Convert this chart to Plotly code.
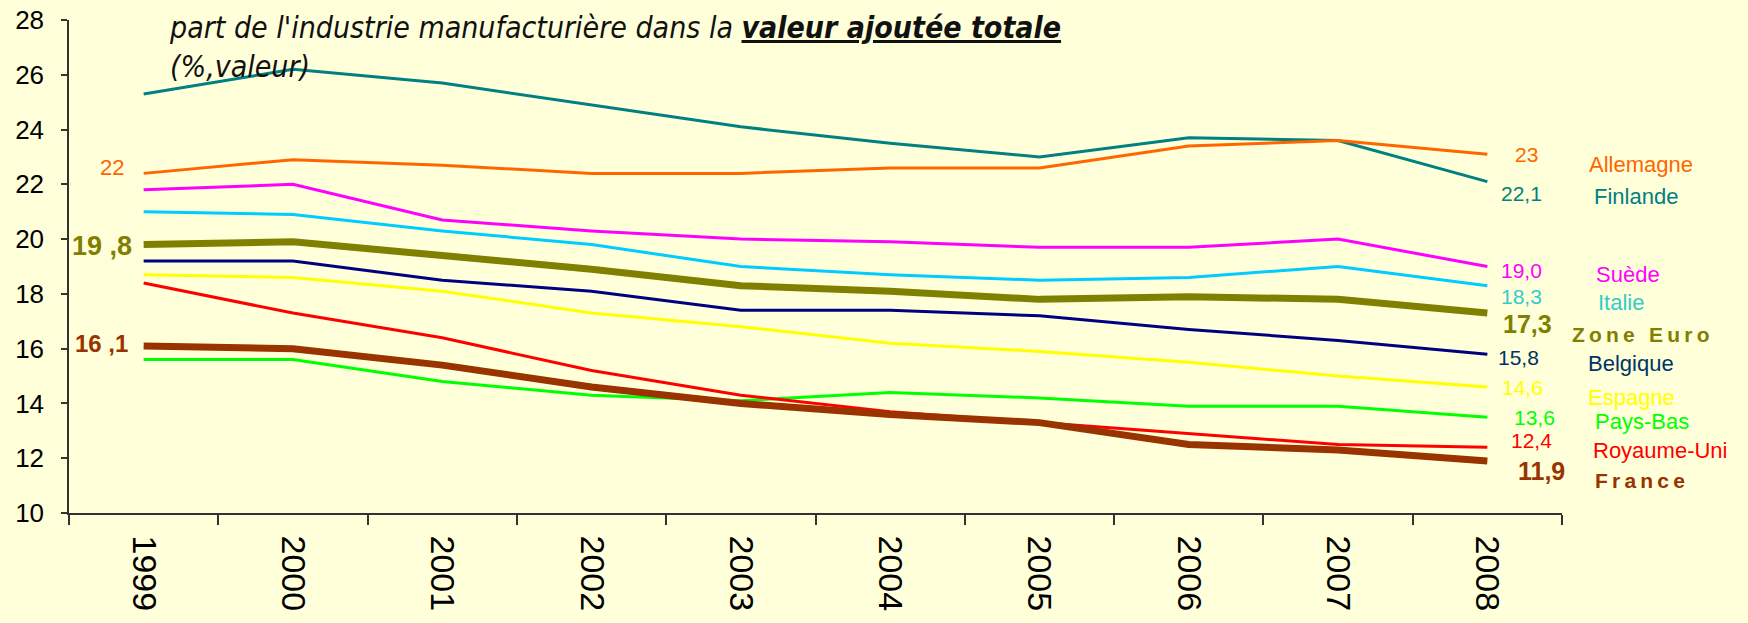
import plotly.graph_objects as go

years = ["1999", "2000", "2001", "2002", "2003", "2004", "2005", "2006", "2007", "2008"]

finlande    = [25.3, 26.2, 25.7, 24.9, 24.1, 23.5, 23.0, 23.7, 23.6, 22.1]
allemagne   = [22.4, 22.9, 22.7, 22.4, 22.4, 22.6, 22.6, 23.4, 23.6, 23.1]
suede       = [21.8, 22.0, 20.7, 20.3, 20.0, 19.9, 19.7, 19.7, 20.0, 19.0]
italie      = [21.0, 20.9, 20.3, 19.8, 19.0, 18.7, 18.5, 18.6, 19.0, 18.3]
zone_euro   = [19.8, 19.9, 19.4, 18.9, 18.3, 18.1, 17.8, 17.9, 17.8, 17.3]
belgique    = [19.2, 19.2, 18.5, 18.1, 17.4, 17.4, 17.2, 16.7, 16.3, 15.8]
espagne     = [18.7, 18.6, 18.1, 17.3, 16.8, 16.2, 15.9, 15.5, 15.0, 14.6]
royaume_uni = [18.4, 17.3, 16.4, 15.2, 14.3, 13.7, 13.3, 12.9, 12.5, 12.4]
pays_bas    = [15.6, 15.6, 14.8, 14.3, 14.1, 14.4, 14.2, 13.9, 13.9, 13.5]
france      = [16.1, 16.0, 15.4, 14.6, 14.0, 13.6, 13.3, 12.5, 12.3, 11.9]

names = ["Allemagne", "Finlande", "Suède", "Italie", "Zone Euro", "Belgique",
         "Espagne", "Pays-Bas", "Royaume-Uni", "France"]
end_labels = ["23", "22,1", "19,0", "18,3", "17,3", "15,8", "14,6", "13,6", "12,4", "11,9"]
start_labels = {"Allemagne": "22", "Zone Euro": "19 ,8", "France": "16 ,1"}

series = {
    "Allemagne": allemagne, "Finlande": finlande, "Suède": suede, "Italie": italie,
    "Zone Euro": zone_euro, "Belgique": belgique, "Espagne": espagne,
    "Pays-Bas": pays_bas, "Royaume-Uni": royaume_uni, "France": france,
}

# styles
line_color = {
    "Allemagne": "#FF6600", "Finlande": "#008080", "Suède": "#FF00FF", "Italie": "#00CCFF",
    "Zone Euro": "#808000", "Belgique": "#000080", "Espagne": "#FFFF00",
    "Pays-Bas": "#00FF00", "Royaume-Uni": "#FF0000", "France": "#993300",
}
text_color = dict(line_color)
text_color["Italie"] = "#33CCCC"
text_color["Belgique"] = "#003366"
thick = {"Zone Euro", "France"}

# (value label xshift, yshift, name xshift, yshift)
offsets = {
    "Allemagne":   (39, 0, 154, -10),
    "Finlande":    (34, -12, 149, -15),
    "Suède":       (34, -4, 141, -8),
    "Italie":      (34, -11, 134, -17),
    "Zone Euro":   (40, -11, 153, -21),
    "Belgique":    (31, -3, 144, -9),
    "Espagne":     (35, 0, 144, -10),
    "Pays-Bas":    (47, 0, 155, -4),
    "Royaume-Uni": (44, 7, 173, -3),
    "France":      (54, -10, 153, -20),
}
start_offsets = {"Allemagne": (-32, 6), "Zone Euro": (-42, -1), "France": (-42, 2)}
start_sizes = {"Allemagne": 22, "Zone Euro": 27, "France": 24}

bg = "#FFFFDA"
font_family = "Liberation Sans, Arial, sans-serif"

fig = go.Figure()
draw_order = ["Finlande", "Allemagne", "Suède", "Italie", "Belgique", "Espagne",
              "Pays-Bas", "Royaume-Uni", "Zone Euro", "France"]
for n in draw_order:
    fig.add_trace(go.Scatter(
        x=years, y=series[n], mode="lines", name=n,
        line=dict(color=line_color[n], width=7 if n in thick else 3),
        hoverinfo="skip",
    ))

last_i = len(years) - 1
annotations = []
for n, lab in zip(names, end_labels):
    vx, vy, nx, ny = offsets[n]
    bold = n in thick
    annotations.append(dict(
        x=last_i, y=series[n][last_i], xref="x", yref="y",
        text=("<b>%s</b>" % lab) if bold else lab,
        showarrow=False, xshift=vx, yshift=vy,
        font=dict(family=font_family, size=25 if bold else 21, color=text_color[n]),
    ))
    nm = "\u2009".join(list(n)) if bold else n
    annotations.append(dict(
        x=last_i, y=series[n][last_i], xref="x", yref="y",
        text=("<b>%s</b>" % nm) if bold else nm,
        showarrow=False, xshift=nx, yshift=ny,
        font=dict(family=font_family, size=21 if bold else 22, color=text_color[n]),
    ))
for n, lab in start_labels.items():
    sx, sy = start_offsets[n]
    bold = n in thick
    annotations.append(dict(
        x=0, y=series[n][0], xref="x", yref="y",
        text=("<b>%s</b>" % lab) if bold else lab,
        showarrow=False, xshift=sx, yshift=sy,
        font=dict(family=font_family, size=start_sizes[n], color=text_color[n]),
    ))

annotations.append(dict(
    x=0.0656, y=1.025, xref="paper", yref="paper", xanchor="left", yanchor="top",
    align="left", showarrow=False,
    text="<i>part de l'industrie manufacturière dans la <b><u>valeur ajoutée totale</u></b><br>(%,valeur)</i>",
    font=dict(family="DejaVu Sans Condensed, Liberation Sans, sans-serif",
              size=30, color="#111111"),
))

fig.update_layout(
    width=1748, height=623,
    margin=dict(l=69, r=186, t=20, b=110),
    paper_bgcolor=bg, plot_bgcolor=bg,
    showlegend=False,
    annotations=annotations,
    xaxis=dict(
        type="category", range=[-0.5, 9.5], tickson="boundaries",
        ticks="outside", ticklen=10, tickcolor="#333333", tickwidth=1.5,
        showline=True, linecolor="#333333", linewidth=1.5,
        showgrid=False, zeroline=False, tickangle=90, automargin=False,
        tickfont=dict(family=font_family, size=34, color="#000000"),
        ticklabelstandoff=14, ticklabeloverflow="allow",
    ),
    yaxis=dict(
        range=[10, 28], dtick=2, tick0=10,
        ticks="outside", ticklen=6, tickcolor="#333333", tickwidth=1.5,
        showline=True, linecolor="#333333", linewidth=1.5,
        showgrid=False, zeroline=False, automargin=False,
        tickfont=dict(family=font_family, size=26, color="#000000"),
        ticklabelstandoff=12, ticklabeloverflow="allow",
    ),
)

# remove the default 8px page margin so the figure fills the window exactly
fig.write_html(
    "out.html",
    config={"displayModeBar": False},
    post_script="document.body.style.margin='0';document.body.style.background='%s';" % bg,
)
